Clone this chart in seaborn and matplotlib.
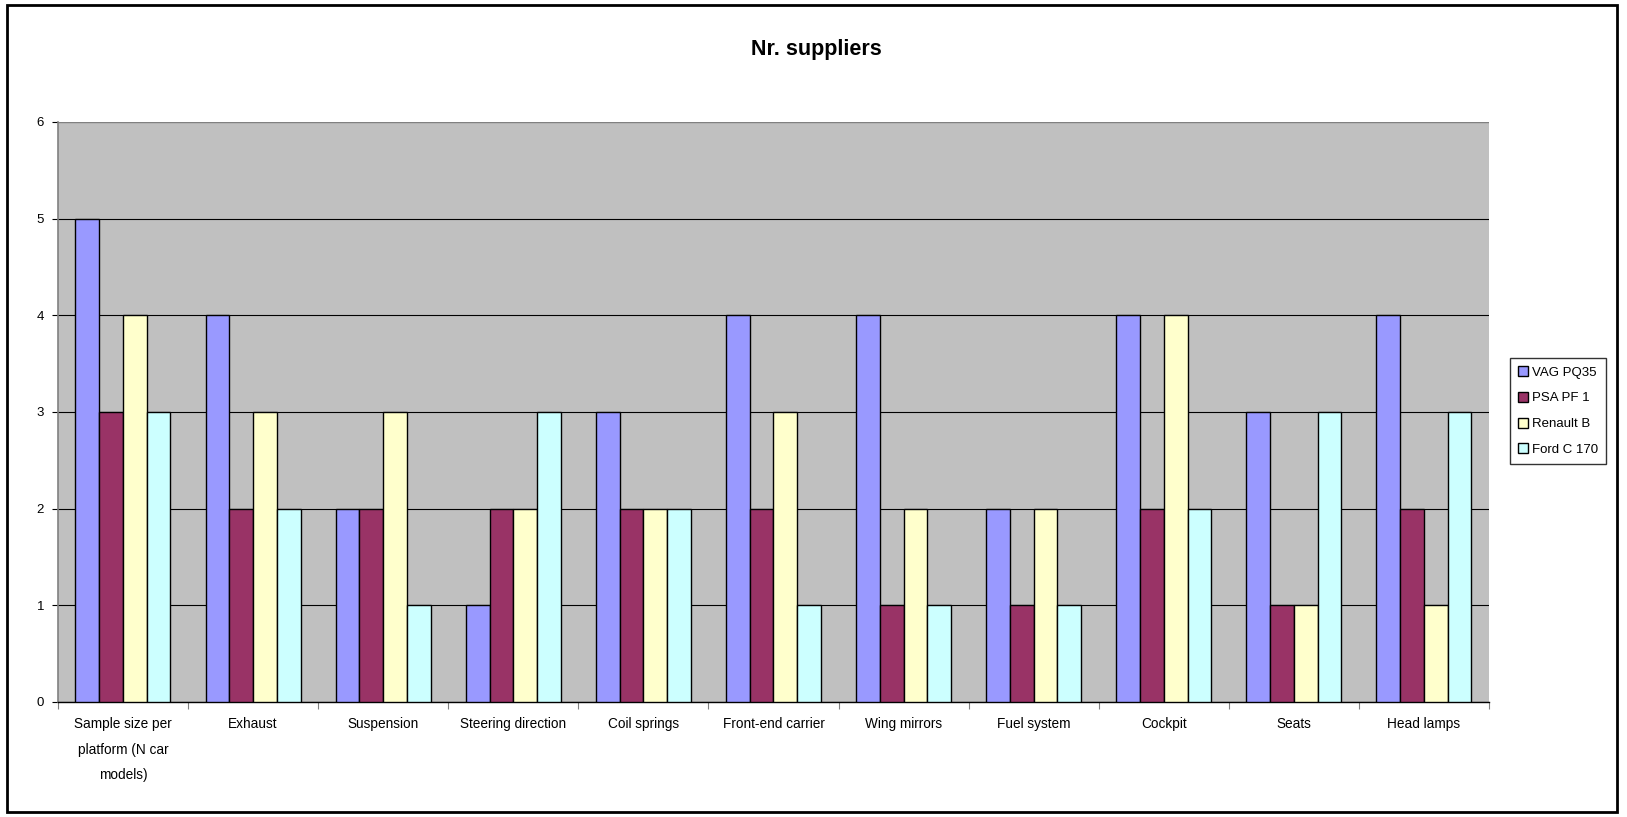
import matplotlib
matplotlib.use("Agg")
import matplotlib.pyplot as plt
from matplotlib.patches import Rectangle
import seaborn as sns
import pandas as pd
import numpy as np

categories = [
    "Sample size per\nplatform (N car\nmodels)",
    "Exhaust",
    "Suspension",
    "Steering direction",
    "Coil springs",
    "Front-end carrier",
    "Wing mirrors",
    "Fuel system",
    "Cockpit",
    "Seats",
    "Head lamps",
]
series = ["VAG PQ35", "PSA PF 1", "Renault B", "Ford C 170"]
vag_pq35 = [5, 4, 2, 1, 3, 4, 4, 2, 4, 3, 4]
psa_pf1 = [3, 2, 2, 2, 2, 2, 1, 1, 2, 1, 2]
renault_b = [4, 3, 3, 2, 2, 3, 2, 2, 4, 1, 1]
ford_c170 = [3, 2, 1, 3, 2, 1, 1, 1, 2, 3, 3]
colors = ["#9999FF", "#993366", "#FFFFCC", "#CCFFFF"]

rows = []
for name, vals in zip(series, [vag_pq35, psa_pf1, renault_b, ford_c170]):
    for cat, v in zip(categories, vals):
        rows.append({"category": cat, "series": name, "value": v})
df = pd.DataFrame(rows)

sns.set_theme(style="white")
plt.rcParams["font.family"] = ["Liberation Sans", "DejaVu Sans"]
plt.rcParams["text.color"] = "black"
plt.rcParams["axes.labelcolor"] = "black"
plt.rcParams["xtick.color"] = "black"
plt.rcParams["ytick.color"] = "black"

fig = plt.figure(figsize=(16.27, 8.17), dpi=100)
ax = fig.add_axes([0.0356, 0.1408, 0.9152 - 0.0356, 0.8507 - 0.1408])
ax.set_facecolor("#C0C0C0")

sns.barplot(
    data=df, x="category", y="value", hue="series",
    hue_order=series, order=categories, palette=colors,
    width=0.73, gap=0, edgecolor="black", linewidth=1.0,
    saturation=1, ax=ax, legend=True, zorder=3,
)

ax.set_ylim(0, 6)
ax.set_xlim(-0.5, len(categories) - 0.5)
ax.set_yticks(range(0, 7))
ax.set_yticklabels([str(i) for i in range(0, 7)], fontsize=9.5, color="black")
ax.yaxis.grid(True, color="black", linewidth=0.8, zorder=1)
ax.set_axisbelow(True)
ax.set_xlabel("")
ax.set_ylabel("")

# category labels without marks; tick marks between categories
ax.set_xticks(range(len(categories)))
ax.set_xticklabels(categories, fontsize=9.8, linespacing=2.05, va="top", color="black")
ax.tick_params(axis="x", which="major", length=0, pad=11)
ax.set_xticks(np.arange(-0.5, len(categories), 1.0), minor=True)
ax.tick_params(axis="x", which="minor", length=5, width=0.8, color="#808080", direction="out", bottom=True)
ax.tick_params(axis="y", which="major", length=4, width=0.8, color="black", direction="out", left=True, pad=6)

for side in ["top", "right"]:
    ax.spines[side].set_visible(False)
ax.spines["left"].set_color("#808080")
ax.spines["left"].set_linewidth(1.2)
ax.spines["bottom"].set_color("black")
ax.spines["bottom"].set_linewidth(1.0)
ax.axhline(6, color="#808080", linewidth=1.5, zorder=4)

fig.suptitle("Nr. suppliers", fontsize=15.5, fontweight="bold", x=0.5016, y=0.940,
             va="center", color="black")

ax.legend_.remove()
handles = [Rectangle((0, 0), 1, 1, facecolor=c, edgecolor="black", linewidth=1.0) for c in colors]
leg = fig.legend(
    handles, series, loc="upper left", bbox_to_anchor=(1510 / 1627, 1 - 358 / 817),
    fontsize=9.5, frameon=True, fancybox=False, edgecolor="black",
    handlelength=0.8, handleheight=0.8, handletextpad=0.3, labelspacing=1.0,
    borderpad=0.6, borderaxespad=0, labelcolor="black",
)
leg.get_frame().set_linewidth(1.0)

# outer chart border
fig.patches.append(Rectangle((7 / 1627, 5 / 817), 1610 / 1627, 807 / 817,
                             transform=fig.transFigure, fill=False,
                             edgecolor="black", linewidth=2))

fig.savefig("out.png", dpi=100, facecolor="white")
